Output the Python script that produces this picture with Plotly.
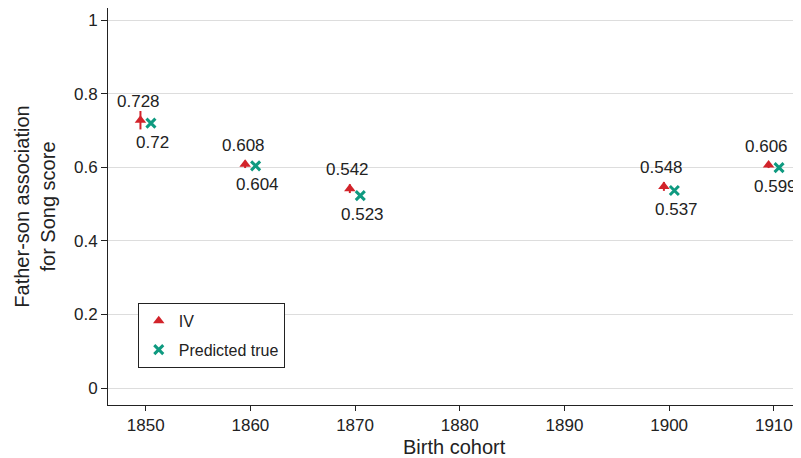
import plotly.graph_objects as go

cohorts = [1850, 1860, 1870, 1900, 1910]
iv_values = [0.728, 0.608, 0.542, 0.548, 0.606]
iv_err = [0.025, 0.010, 0.012, 0.012, 0.008]
pred_values = [0.720, 0.604, 0.523, 0.537, 0.599]
iv_labels = ["0.728", "0.608", "0.542", "0.548", "0.606"]
pred_labels = ["0.72", "0.604", "0.523", "0.537", "0.599"]
x_ticks = [1850, 1860, 1870, 1880, 1890, 1900, 1910]
y_ticks = [0, 0.2, 0.4, 0.6, 0.8, 1]
y_ticklabels = ["0", "0.2", "0.4", "0.6", "0.8", "1"]

RED = "#d2232a"
TEAL = "#0f9a80"
FONT = "Liberation Sans, Arial, sans-serif"

iv_x = [c - 0.5 for c in cohorts]
pred_x = [c + 0.5 for c in cohorts]

fig = go.Figure()
fig.add_trace(go.Scatter(
    x=iv_x, y=iv_values, name="IV", legendgroup="a",
    mode="markers", cliponaxis=False,
    marker=dict(symbol="triangle-up", size=10, color=RED),
    error_y=dict(type="data", array=iv_err, visible=True, color=RED, thickness=2, width=0),
))
fig.add_trace(go.Scatter(
    x=pred_x, y=pred_values, name="Predicted true", legendgroup="b",
    mode="markers", cliponaxis=False,
    marker=dict(symbol="x-thin", size=9, color=TEAL, line=dict(width=3, color=TEAL)),
))

annotations = []
for x, y, t in zip(iv_x, iv_values, iv_labels):
    annotations.append(dict(x=x, y=y, text=t, showarrow=False, yshift=19, xshift=-2,
                            font=dict(size=17, color="#222")))
n = len(pred_x)
for i, (x, y, t) in enumerate(zip(pred_x, pred_values, pred_labels)):
    annotations.append(dict(x=x, y=y, text=t, showarrow=False, yshift=-19,
                            xshift=(-4 if i == n - 1 else 2),
                            font=dict(size=17, color="#222")))
annotations.append(dict(xref="paper", yref="paper", x=0.5, y=0, text="Birth cohort",
                        showarrow=False, yanchor="middle", yshift=-42,
                        font=dict(size=20, color="#222")))

fig.update_layout(
    width=793, height=450,
    margin=dict(l=100, r=1, t=0, b=53),
    paper_bgcolor="white", plot_bgcolor="white",
    font=dict(family=FONT, size=17, color="#222"),
    showlegend=True,
    annotations=annotations,
    legend=dict(x=0.043, y=0.257, xanchor="left", yanchor="top",
                bordercolor="#222", borderwidth=1, bgcolor="white",
                font=dict(size=16), tracegroupgap=5, itemwidth=30),
    xaxis=dict(range=[1846.4, 1912.5], tickvals=x_ticks, showgrid=False,
               showline=True, linecolor="#222", linewidth=1,
               ticks="outside", ticklen=5, tickcolor="#222",
               zeroline=False, automargin=False),
    yaxis=dict(range=[-0.046, 1.033], tickvals=y_ticks, ticktext=y_ticklabels,
               showgrid=True, gridcolor="#dddddd", gridwidth=1,
               showline=True, linecolor="#222", linewidth=1,
               ticks="outside", ticklen=6, tickcolor="#222",
               zeroline=False, automargin=False,
               title=dict(text="Father-son association<br>for Song score", font=dict(size=20), standoff=12)),
)

fig.write_html("out.html")
